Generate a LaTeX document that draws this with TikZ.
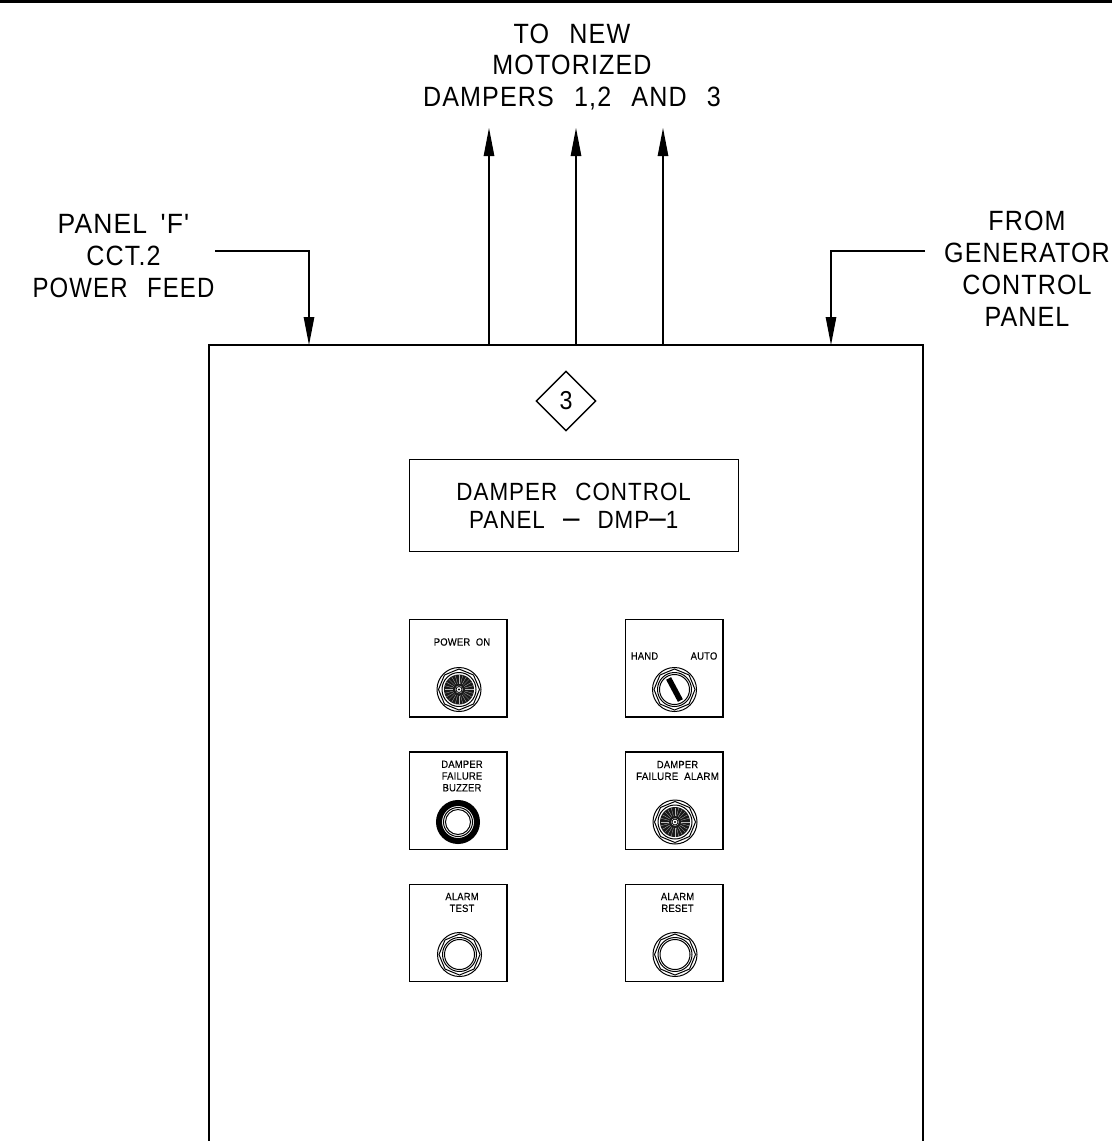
\documentclass[tikz,border=0pt]{standalone}
\usepackage{fontspec}
\setmainfont{Liberation Sans}
\usetikzlibrary{arrows.meta,shapes.geometric}
\newfontface\cadfont{Liberation Sans}[LetterSpace=4,FakeStretch=0.9,WordSpace=2.5]
\newfontface\cadnarrow{Liberation Sans}[LetterSpace=4,FakeStretch=0.86,WordSpace=2.5]
\newfontface\cadwide{Liberation Sans}[LetterSpace=4,FakeStretch=0.95,WordSpace=1.6]
\newfontface\cadsmall{Liberation Sans}[LetterSpace=2,FakeStretch=0.9,WordSpace=2,FakeBold=0.15]
\newfontface\cadsmallw{Liberation Sans}[LetterSpace=2,FakeStretch=0.94,WordSpace=2,FakeBold=0.15]
\newfontface\cadtag{Liberation Sans}[FakeStretch=0.9]
\newcommand{\longdash}{{\fontsize{33}{28}\selectfont –}}
\tikzset{
  x=1bp,y=-1bp,
  wire/.style={line width=1.2bp,black},
  arrowed/.style={wire,-{Triangle[length=28bp,width=10.5bp,sharp]}},
  bigtext/.style={font=\cadfont\fontsize{28}{31.6}\selectfont,align=center,inner sep=1bp,text=black},
  midtext/.style={font=\cadfont\fontsize{28}{32}\selectfont,align=center,inner sep=1bp,text=black},
  smalltext/.style={font=\cadsmall\fontsize{10.5}{11.8}\selectfont,align=center,inner sep=0pt,text=black},
  box/.style={draw=black,line width=1.2bp,minimum width=97.5bp,minimum height=97.5bp,inner sep=0pt},
  rim/.pic={
    \draw[line width=1bp] (0,0) circle[radius=22];
    \draw[line width=1bp] (0:20.5)--(22.5:19)--(45:20.5)--(67.5:19)--(90:20.5)--(112.5:19)--(135:20.5)--(157.5:19)--(180:20.5)--(202.5:19)--(225:20.5)--(247.5:19)--(270:20.5)--(292.5:19)--(315:20.5)--(337.5:19)--cycle;
    \draw[line width=1bp] (0,0) circle[radius=17];
  },
  ridged/.pic={
    \pic {rim};
    \fill[black!90] (0,0) circle[radius=15];
    \foreach \a in {0,15,...,345}{\draw[white,line width=.3bp,opacity=.7] (\a:6)--(\a:14.5);}
    \fill[white] (0,0) circle[radius=3.8];
    \draw[line width=.8bp] (0,0) circle[radius=3];
    \fill (0,0) circle[radius=1.1];
  },
  plainknob/.pic={
    \pic {rim};
    \draw[line width=1bp] (0,0) circle[radius=15];
  },
  buzzerknob/.pic={
    \draw[line width=6bp] (0,0) circle[radius=19];
    \draw[line width=1bp] (0,0) circle[radius=14.5];
    \draw[line width=1bp] (0,0) circle[radius=12.5];
  },
  switchknob/.pic={
    \pic {rim};
    \begin{scope}[rotate=-62]
      \fill[black] (-12.5,-2.8) rectangle (12.5,2.8);
    \end{scope}
    \draw[line width=1bp] (0,0) circle[radius=15];
  },
}
\begin{document}
\begin{tikzpicture}
\useasboundingbox (0,0) rectangle (1112,1141);
\clip (0,0) rectangle (1112,1141);
\fill[black] (0,0) rectangle (1112,3);

% panel outline
\coordinate (pBL) at (209,1141);
\coordinate (pTL) at (209,345);
\coordinate (pTR) at (923,345);
\coordinate (pBR) at (923,1141);
\draw[wire] (pBL)--(pTL)--(pTR)--(pBR);
\coordinate (inF) at (309,345);
\coordinate (inG) at (831,345);
\coordinate (d1) at (489,345);
\coordinate (d2) at (576,345);
\coordinate (d3) at (663,345);
\coordinate (e1) at (489,128);
\coordinate (e2) at (576,128);
\coordinate (e3) at (663,128);

% labels
\node[bigtext] (toDampers) at (572,67) {TO NEW\\MOTORIZED\\DAMPERS 1,2 AND 3};
\node[midtext] (lblF) at (123.5,256) {{\cadwide PANEL 'F'}\\CCT.2\\{\cadnarrow POWER FEED}};
\node[midtext] (lblG) at (1027,268.5) {FROM\\GENERATOR\\CONTROL\\PANEL};
\coordinate (feedF) at (215,251);
\coordinate (feedG) at (925,251);

% connectors
\draw[arrowed] (feedF) -| (inF);
\draw[arrowed] (feedG) -| (inG);
\draw[arrowed] (d1)--(e1);
\draw[arrowed] (d2)--(e2);
\draw[arrowed] (d3)--(e3);

% tag
\node[draw=black,line width=1.4bp,shape=diamond,minimum width=60bp,minimum height=60bp,inner sep=0pt,font=\cadtag\fontsize{26}{26}\selectfont] (tag) at (566,401) {3};

% nameplate
\node[draw=black,line width=1.2bp,minimum width=329bp,minimum height=92.5bp,inner sep=0pt,align=center,font=\cadfont\fontsize{25}{28}\selectfont] (plate) at (573.7,505.4) {DAMPER CONTROL\\PANEL \longdash{} DMP\longdash{}1};

% boxes
\node[box] (b1) at (458.25,668.25) {};
\node[box] (b2) at (674.25,668.25) {};
\node[box] (b3) at (458.25,800.75) {};
\node[box] (b4) at (674.25,800.75) {};
\node[box] (b5) at (458.25,933) {};
\node[box] (b6) at (674.25,933) {};

\node[smalltext] (t1) at (462,642) {POWER ON};
\node[smalltext] (t2a) at (644.5,656) {HAND};
\node[smalltext] (t2b) at (704,656) {AUTO};
\node[smalltext] (t3) at (462,776) {DAMPER\\FAILURE\\BUZZER};
\node[smalltext] (t4) at (677.5,770.5) {DAMPER\\{\cadsmallw\fontsize{10.5}{11.8}\selectfont FAILURE ALARM}};
\node[smalltext] (t5) at (462,902.5) {ALARM\\TEST};
\node[smalltext] (t6) at (677.5,902.5) {ALARM\\RESET};

\pic at (459,689.5) {ridged};
\pic at (674.5,689.5) {switchknob};
\pic at (458,822) {buzzerknob};
\pic at (675,822) {ridged};
\pic at (459.5,954.5) {plainknob};
\pic at (675,954.5) {plainknob};
\end{tikzpicture}
\end{document}
